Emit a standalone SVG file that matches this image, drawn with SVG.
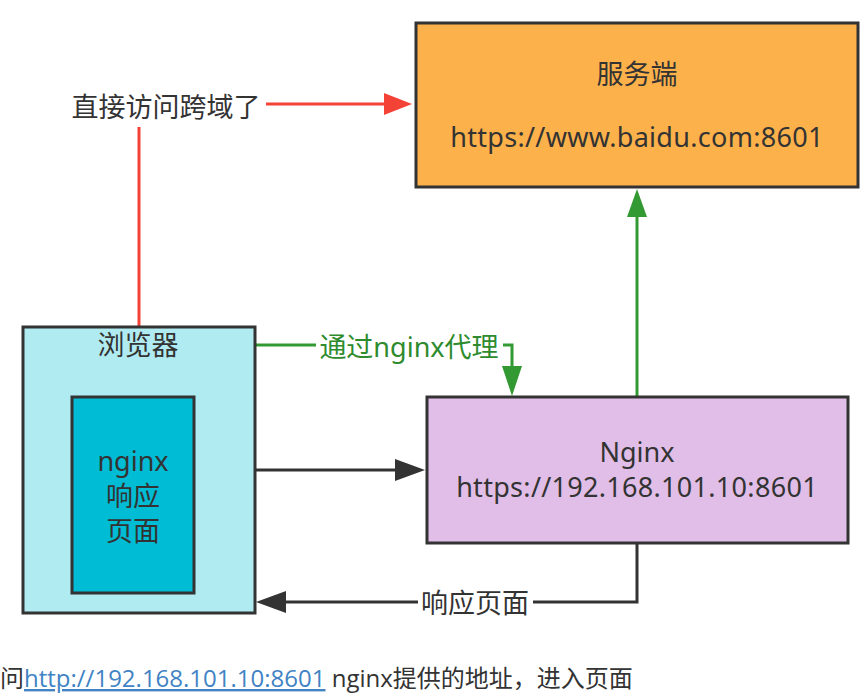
<svg xmlns="http://www.w3.org/2000/svg" width="863" height="698" viewBox="0 0 863 698">
<defs>
<style>
.t{font-family:"Noto Sans","Noto Sans CJK SC",sans-serif;font-size:27px;fill:#333;text-anchor:middle}
.box{stroke:#333;stroke-width:3}
.red{stroke:#f44336;stroke-width:3;fill:none}
.grn{stroke:#339933;stroke-width:3;fill:none}
.blk{stroke:#333;stroke-width:3;fill:none}
</style>
</defs>
<rect width="863" height="698" fill="#fff"/>
<g id="connectors">
<line class="red" x1="139" y1="326" x2="139" y2="127"/>
<line class="red" x1="266" y1="104" x2="384" y2="104"/>
<path d="M384,93 L412,104 L384,115 z" fill="#f44336"/>
<line class="grn" x1="255" y1="345" x2="316" y2="345"/>
<text x="409" y="357" class="t" style="fill:#2e8b2e">通过nginx代理</text>
<polyline class="grn" points="503,345 512,345 512,368"/>
<path d="M502,366 L512,396 L522,366 z" fill="#339933"/>
<line class="grn" x1="637" y1="396" x2="637" y2="215"/>
<path d="M627,217 L637,189 L647,217 z" fill="#339933"/>
<line class="blk" x1="255" y1="470" x2="397" y2="470"/>
<path d="M395,459 L425,470 L395,481 z" fill="#333"/>
<polyline class="blk" points="637,543 637,602 533,602"/>
<text x="475" y="613" class="t">响应页面</text>
<line class="blk" x1="418" y1="602" x2="284" y2="602"/>
<path d="M286,591 L256,602 L286,613 z" fill="#333"/>
<text x="166" y="117" class="t">直接访问跨域了</text>
</g>
<g id="server">
<rect class="box" x="416" y="23" width="442" height="164" fill="#fdb14b"/>
<text x="637" y="84" class="t">服务端</text>
<text x="637" y="147" class="t" style="letter-spacing:0.3px">https://www.baidu.com:8601</text>
</g>
<g id="browser">
<rect class="box" x="23" y="327" width="232" height="286" fill="#b1ebf2"/>
<text x="138" y="355" class="t">浏览器</text>
</g>
<g id="page">
<rect class="box" x="72" y="397" width="122" height="196" fill="#00bcd4"/>
<text x="133" y="471" class="t">nginx</text>
<text x="133" y="506" class="t">响应</text>
<text x="133" y="541" class="t">页面</text>
</g>
<g id="nginx">
<rect class="box" x="427" y="397" width="421" height="146" fill="#e1bee7"/>
<text x="637" y="462" class="t">Nginx</text>
<text x="637" y="497" class="t" style="letter-spacing:0.3px">https://192.168.101.10:8601</text>
</g>
<text x="0" y="687" style="font-family:'Open Sans','Noto Sans CJK SC',sans-serif;font-size:24px;fill:#333">问<tspan fill="#4183c4" text-decoration="underline">http://192.168.101.10:8601</tspan> nginx提供的地址，进入页面</text>
</svg>
